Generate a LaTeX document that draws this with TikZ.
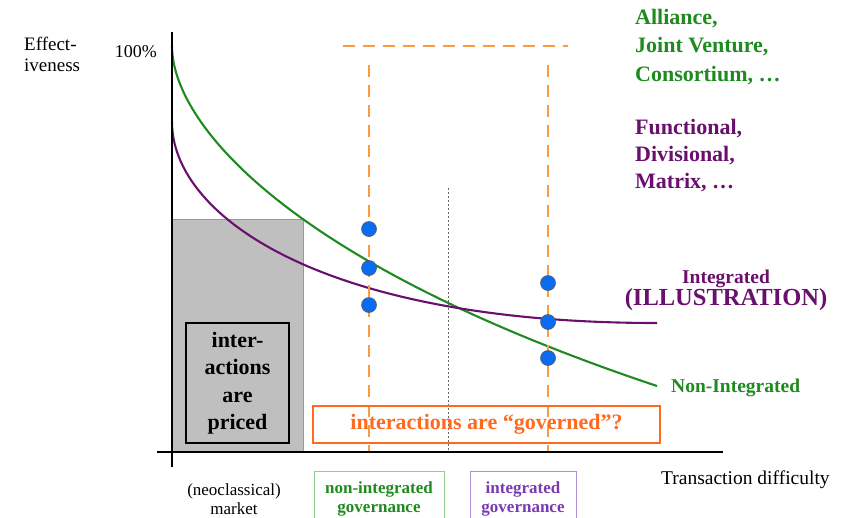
\documentclass[tikz,border=0pt]{standalone}
\usepackage{fontspec}
\setmainfont{Liberation Serif}
\usetikzlibrary{calc}
\definecolor{effgreen}{HTML}{1F8A1F}
\definecolor{effpurple}{HTML}{6A0F6E}
\definecolor{govgreen}{HTML}{8FD08F}
\definecolor{govpurple}{HTML}{7A38B2}
\definecolor{govline}{HTML}{B08ED6}
\definecolor{dashorange}{HTML}{FF9A3C}
\definecolor{boxorange}{HTML}{FF6A1F}
\definecolor{dotblue}{HTML}{0A6CF0}

\begin{document}
\begin{tikzpicture}[x=1pt,y=-1pt,
    curve/.style={line width=2.1pt},
    guide/.style={dashorange,line width=2.8pt,dash pattern=on 12pt off 8pt},
    firm/.style={circle,fill=dotblue,draw=black!65,line width=0.6pt,inner sep=0pt,minimum size=15pt},
    govbox/.style={draw=#1,line width=0.9pt,anchor=north,minimum height=56pt,inner sep=0pt,align=center,
        font=\fontsize{17}{19}\selectfont\bfseries},
    lbl/.style={inner sep=0pt,align=left}]
    \useasboundingbox (0,0) rectangle (850,517);

    %%% COORDINATES %%%
    \coordinate (O) at (172,452);
    \coordinate (ytop) at (172,32);
    \coordinate (ybot) at (172,467);
    \coordinate (xleft) at (157,452);
    \coordinate (xright) at (723,452);
    \coordinate (g0) at (172,46);
    \coordinate (g1) at (657,386);
    \coordinate (p0) at (172,122);
    \coordinate (p1) at (657,323);
    \coordinate (cross) at (448,188);

    %%% MARKET REGION %%%
    \filldraw[fill=black!25,draw=black!40,line width=0.6pt] (O) rectangle (303,219);

    %%% CURVES %%%
    \draw[curve,effgreen] (g0) .. controls (172,120) and (280,260) .. (g1);
    \draw[curve,effpurple] (p0) .. controls (172,215) and (320,323) .. (p1);

    %%% GUIDES %%%
    \draw[guide] (343,46) coordinate (h0) -- (568,46) coordinate (h1);
    \draw[guide] (369,65) coordinate (v0) -- (369,452) coordinate (v1);
    \draw[guide] (548,65) coordinate (w0) -- (548,452) coordinate (w1);
    \draw[black!60,line width=0.8pt,dash pattern=on 2pt off 2pt] (cross) -- (cross |- O);

    %%% BOXES %%%
    \node[draw,line width=2.2pt,minimum width=103pt,minimum height=120pt,inner sep=0pt,align=center,
        font=\fontsize{22}{27.5}\selectfont\bfseries] (priced) at (237.5,383) {inter-\\actions\\are\\priced};
    \node[draw=boxorange,line width=2.4pt,minimum width=347pt,minimum height=37pt,inner sep=0pt,
        text=boxorange,font=\fontsize{22}{26}\selectfont\bfseries] (governed) at (486.5,424.5)
        {interactions are “governed”?};
    \node[govbox=govgreen,minimum width=130pt,text=effgreen] (nonint) at (379,471) {non-integrated\\governance};
    \node[govbox=govline,minimum width=106pt,text=govpurple] (integ) at (523,471) {integrated\\governance};

    %%% FIRMS %%%
    \node[firm] (a1) at (369,229) {};
    \node[firm] (a2) at (369,268) {};
    \node[firm] (a3) at (369,305) {};
    \node[firm] (b1) at (548,283) {};
    \node[firm] (b2) at (548,322) {};
    \node[firm] (b3) at (548,358) {};

    %%% AXES %%%
    \draw[line width=2.6pt] (ybot) -- (ytop);
    \draw[line width=2.6pt] (xleft) -- (xright);

    %%% LABELS %%%
    \node[lbl,anchor=north west,font=\fontsize{19}{21}\selectfont] (yname) at (24,37) {Effect-\\iveness};
    \node[lbl,anchor=base east,font=\fontsize{18}{20}\selectfont] (full) at (157,57) {100\%};
    \node[lbl,anchor=base west,font=\fontsize{19.5}{22}\selectfont] (xname) at (661,484) {Transaction difficulty};
    \node[lbl,align=center,anchor=north,font=\fontsize{17}{19}\selectfont] (market) at (234,483) {(neoclassical)\\market};
    \node[lbl,anchor=north west,text=effgreen,font=\fontsize{22}{28.5}\selectfont\bfseries] (alliances) at (635,9)
        {Alliance,\\Joint Venture,\\Consortium, …};
    \node[lbl,anchor=north west,text=effpurple,font=\fontsize{22}{27}\selectfont\bfseries] (hierarchies) at (635,119)
        {Functional,\\Divisional,\\Matrix, …};
    \node[lbl,align=center,text=effpurple,font=\bfseries] (integname) at (726,290)
        {{\fontsize{19.5}{22}\selectfont Integrated}\\{\fontsize{24.5}{24}\selectfont (ILLUSTRATION)}};
    \node[lbl,anchor=west,text=effgreen,font=\fontsize{19.5}{22}\selectfont\bfseries] (nonintname) at (671,388) {Non-Integrated};
\end{tikzpicture}
\end{document}
